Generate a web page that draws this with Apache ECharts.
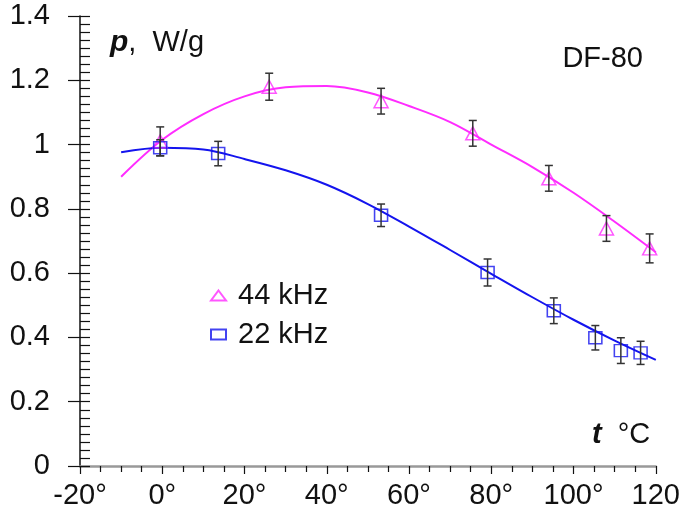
<!DOCTYPE html>
<html>
<head>
<meta charset="utf-8">
<script src="https://cdn.jsdelivr.net/npm/echarts@6/dist/echarts.min.js"></script>
<style>
  html, body { margin: 0; padding: 0; background: #fff; }
  #chart { width: 683px; height: 522px; }
</style>
</head>
<body>
<div id="chart"></div>
<script>
// measured points, 44 kHz
const t44 = [-0.5, 26, 53.2, 75.5, 94, 108, 118.5];
const p44 = [1.01, 1.18, 1.135, 1.035, 0.895, 0.739, 0.677];
const e44 = [0.045, 0.042, 0.04, 0.04, 0.04, 0.04, 0.045];

// measured points, 22 kHz
const t22 = [-0.5, 13.6, 53.2, 79.1, 95.2, 105.3, 111.5, 116.3];
const p22 = [0.99, 0.972, 0.78, 0.602, 0.483, 0.399, 0.359, 0.352];
const e22 = [0.025, 0.038, 0.035, 0.042, 0.04, 0.038, 0.04, 0.036];

// fitted curves
const fitT = [-10, 0, 10, 20, 30, 40, 50, 60, 70, 80, 90, 100, 110, 120];
const fit44 = [0.90, 1.015, 1.095, 1.15, 1.178, 1.182, 1.162, 1.12, 1.07, 1.0, 0.93, 0.85, 0.76, 0.665];
const fit22 = [0.976, 0.99, 0.985, 0.955, 0.92, 0.875, 0.815, 0.745, 0.672, 0.598, 0.525, 0.455, 0.39, 0.33];

const xTicks = ['-20°', '0°', '20°', '40°', '60°', '80°', '100°', '120'];

const MAGENTA = '#ff2cff';
const BLUE = '#1414ee';
const FONT = '"Liberation Sans", Arial, sans-serif';

const zip = (a, b) => a.map((v, i) => [v, b[i]]);
const bars = t44.map((t, i) => [t, p44[i], e44[i]])
  .concat(t22.map((t, i) => [t, p22[i], e22[i]]));

const chart = echarts.init(document.getElementById('chart'));

chart.setOption({
  animation: false,
  grid: { left: 80, right: 20, top: 16, bottom: 56 },
  xAxis: {
    type: 'value',
    min: -20,
    max: 120,
    interval: 20,
    axisLine: { onZero: false, lineStyle: { color: '#999', width: 2.5 } },
    axisTick: { length: 8, lineStyle: { color: '#111', width: 1.2 } },
    minorTick: { show: true, splitNumber: 4, length: 6, lineStyle: { color: '#111', width: 1.2 } },
    splitLine: { show: false },
    axisLabel: {
      margin: 15,
      fontSize: 29,
      fontFamily: FONT,
      color: '#111',
      formatter: (v) => xTicks[Math.round((v + 20) / 20)]
    }
  },
  yAxis: [{
    type: 'value',
    position: 'left',
    min: 0,
    max: 1.4,
    interval: 0.2,
    axisLine: { show: true, onZero: false, lineStyle: { color: '#111', width: 1.5 } },
    axisTick: { show: true, length: 12, lineStyle: { color: '#111', width: 1.2 } },
    splitLine: { show: false },
    axisLabel: {
      margin: 30,
      fontSize: 29,
      fontFamily: FONT,
      color: '#111',
      formatter: (v) => String(+v.toFixed(1))
    }
  }, {
    // inside ticks on the same axis line
    type: 'value',
    position: 'left',
    min: 0,
    max: 1.4,
    interval: 0.2,
    axisLine: { show: false, onZero: false },
    axisTick: { show: true, inside: true, length: 10, lineStyle: { color: '#111', width: 1.2 } },
    minorTick: { show: true, splitNumber: 8, length: 10, lineStyle: { color: '#111', width: 1.2 } },
    splitLine: { show: false },
    axisLabel: { show: false }
  }],
  legend: {
    orient: 'vertical',
    left: 205,
    top: 276,
    itemGap: 10,
    itemWidth: 15,
    itemHeight: 10,
    symbolKeepAspect: false,
    data: ['44 kHz', '22 kHz'],
    textStyle: { fontSize: 29, fontFamily: FONT, color: '#111', padding: [0, 0, 0, 7] }
  },
  graphic: [
    {
      type: 'text', left: 110, top: 28,
      style: {
        text: '{p|p}{n|,  W/g}',
        rich: {
          p: { fontSize: 30, fontFamily: FONT, fontWeight: 'bold', fontStyle: 'italic', fill: '#111' },
          n: { fontSize: 29, fontFamily: FONT, fill: '#111' }
        }
      }
    },
    {
      type: 'text', right: 40, top: 44,
      style: { text: 'DF-80', fontSize: 29, fontFamily: FONT, fill: '#111' }
    },
    {
      type: 'text', left: 592, top: 420,
      style: {
        text: '{t|t}{n|  °C}',
        rich: {
          t: { fontSize: 29, fontFamily: FONT, fontWeight: 'bold', fontStyle: 'italic', fill: '#111' },
          n: { fontSize: 29, fontFamily: FONT, fill: '#111' }
        }
      }
    }
  ],
  series: [
    {
      type: 'line',
      data: zip(fitT, fit44),
      smooth: 0.35,
      showSymbol: false,
      silent: true,
      lineStyle: { color: MAGENTA, width: 2 },
      z: 2
    },
    {
      type: 'line',
      data: zip(fitT, fit22),
      smooth: 0.35,
      showSymbol: false,
      silent: true,
      lineStyle: { color: BLUE, width: 2 },
      z: 2
    },
    {
      name: '44 kHz',
      type: 'scatter',
      data: zip(t44, p44),
      symbol: 'triangle',
      symbolSize: [14, 13],
      itemStyle: { color: 'rgba(255,255,255,0)', borderColor: MAGENTA, borderWidth: 1.5 },
      z: 3
    },
    {
      name: '22 kHz',
      type: 'scatter',
      data: zip(t22, p22),
      symbol: 'rect',
      symbolSize: [13, 12],
      itemStyle: { color: 'rgba(255,255,255,0)', borderColor: BLUE, borderWidth: 1.5 },
      z: 3
    },
    {
      type: 'custom',
      data: bars,
      silent: true,
      z: 4,
      renderItem: function (params, api) {
        const x = api.value(0), y = api.value(1), e = api.value(2);
        const lo = api.coord([x, y - e]);
        const hi = api.coord([x, y + e]);
        const w = 4;
        const style = { stroke: '#333', lineWidth: 1.5 };
        return {
          type: 'group',
          children: [
            { type: 'line', shape: { x1: lo[0], y1: lo[1], x2: hi[0], y2: hi[1] }, style: style },
            { type: 'line', shape: { x1: lo[0] - w, y1: lo[1], x2: lo[0] + w, y2: lo[1] }, style: style },
            { type: 'line', shape: { x1: hi[0] - w, y1: hi[1], x2: hi[0] + w, y2: hi[1] }, style: style }
          ]
        };
      }
    }
  ]
});
</script>
</body>
</html>
